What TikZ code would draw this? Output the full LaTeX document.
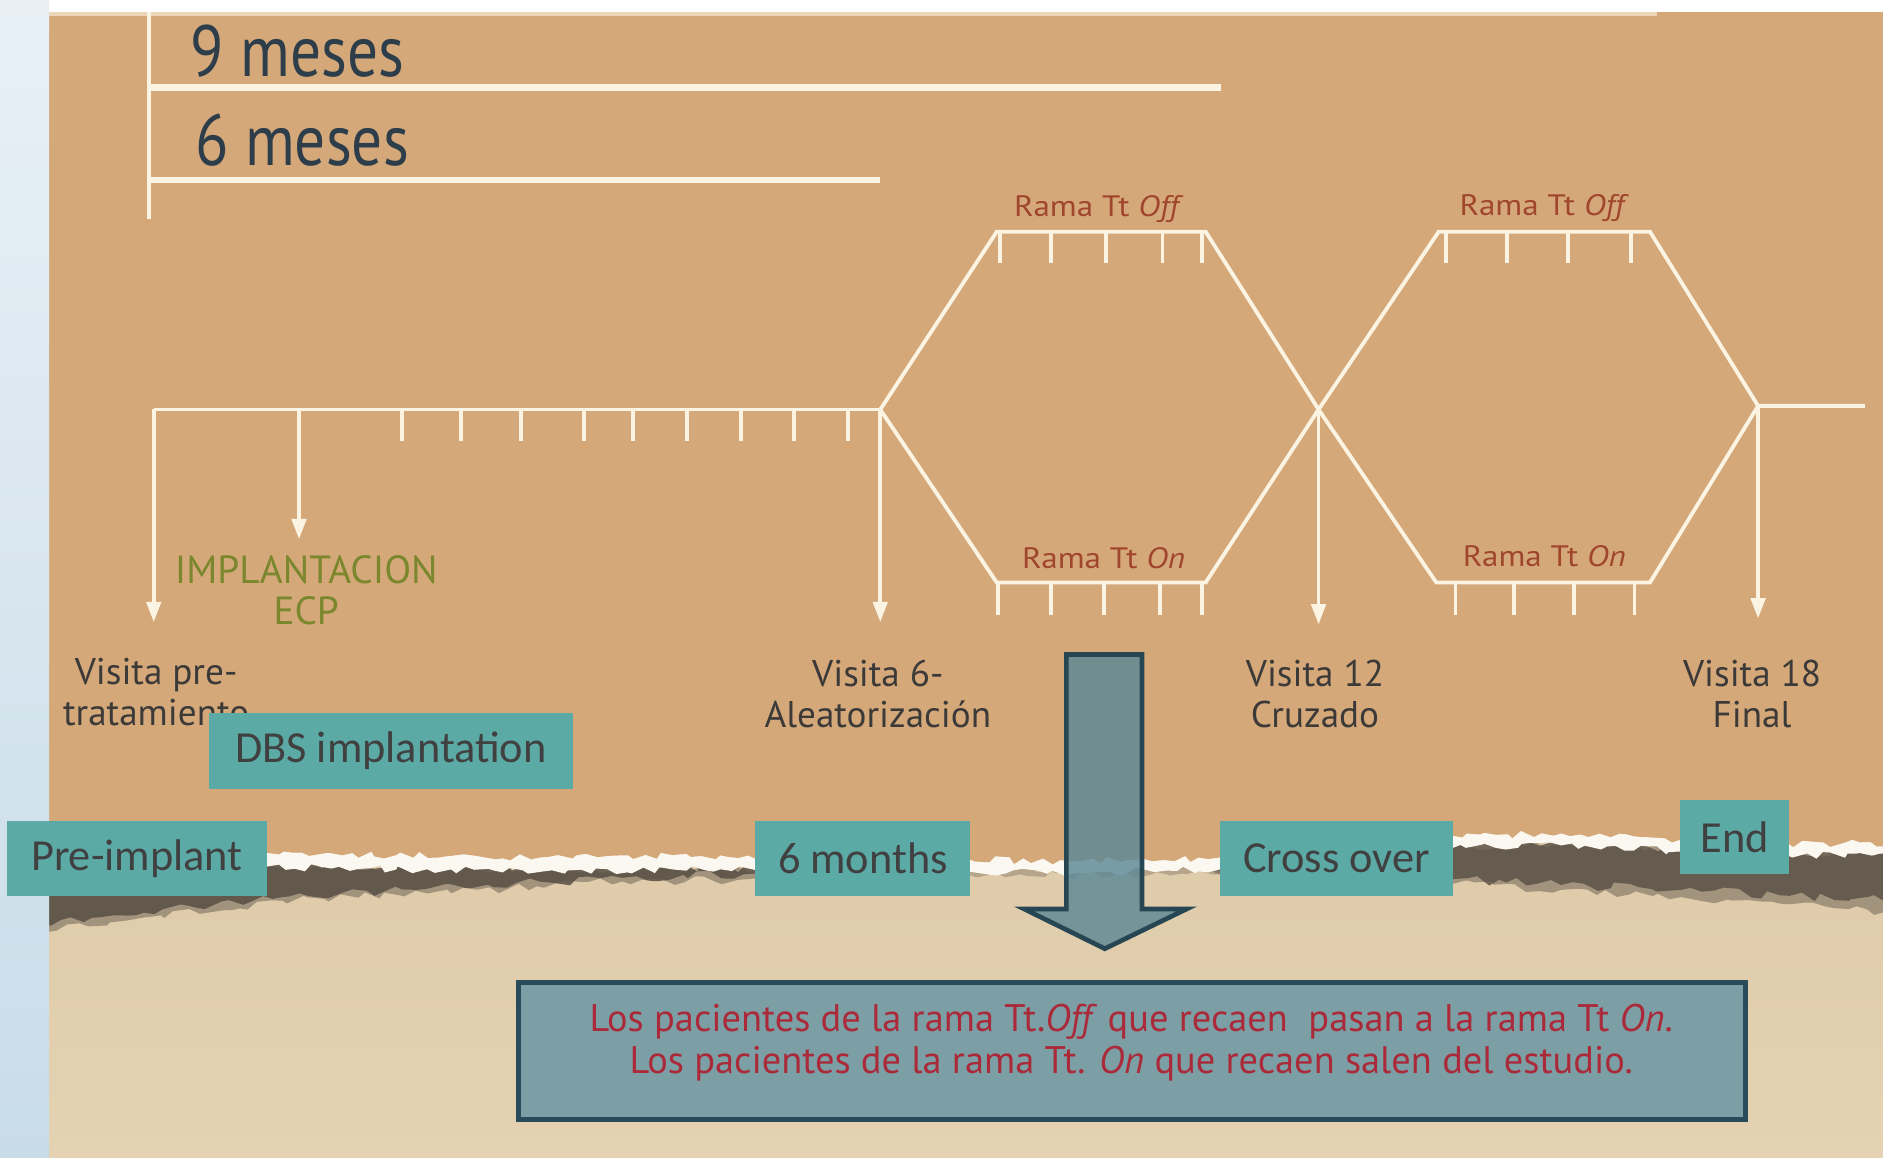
\documentclass[tikz,border=0pt]{standalone}
\usepackage{fontspec}
\setmainfont{PT Sans}
\newfontfamily\cali{Carlito}
\usetikzlibrary{arrows.meta,decorations.pathmorphing}

\definecolor{kraft}{RGB}{213,168,122}
\definecolor{beigeA}{RGB}{221,200,165}
\definecolor{beigeB}{RGB}{228,210,178}
\definecolor{shadowc}{RGB}{88,78,68}
\definecolor{tearw}{RGB}{250,248,240}
\definecolor{linec}{RGB}{252,244,226}
\definecolor{mesesc}{RGB}{45,62,74}
\definecolor{visitc}{RGB}{60,58,56}
\definecolor{ramac}{RGB}{160,70,45}
\definecolor{implc}{RGB}{122,135,45}
\definecolor{tealc}{RGB}{92,170,166}
\definecolor{tealtxt}{RGB}{64,64,64}
\definecolor{arrowf}{RGB}{92,136,150}
\definecolor{arrowd}{RGB}{38,70,84}
\definecolor{boxf}{RGB}{124,159,165}
\definecolor{boxd}{RGB}{40,76,92}
\definecolor{boxtxt}{RGB}{170,42,58}
\definecolor{bluetop}{RGB}{232,240,246}
\definecolor{bluebot}{RGB}{200,220,232}

\tikzset{
  wline/.style={draw=linec, line width=0.9pt},
  wthick/.style={draw=linec, line width=1.5pt},
  warrow/.style={wline, -{Triangle[width=3.4pt,length=4.8pt]}},
  mesestxt/.style={inner sep=0pt, text=mesesc, font=\fontsize{16.5}{18}\selectfont},
  ramatxt/.style={inner sep=0pt, text=ramac, font=\fontsize{7}{8}\selectfont},
  visittxt/.style={inner sep=0pt, text=visitc, align=center, font=\fontsize{8.8}{9.7}\selectfont},
  impltxt/.style={inner sep=0pt, text=implc, align=center, font=\fontsize{9.3}{9.7}\selectfont},
  tealbox/.style={fill=tealc, text=tealtxt, inner sep=0pt, font=\cali\fontsize{10.5}{12}\selectfont},
  tearedge/.style={decorate, decoration={random steps, segment length=2.2pt, amplitude=0.9pt}},
  shadedge/.style={decorate, decoration={random steps, segment length=2.5pt, amplitude=1.1pt}},
}

\begin{document}
\begin{tikzpicture}[x=0.01cm,y=-0.01cm]
\useasboundingbox (0,0) rectangle (1568,964);
\begin{scope}
\clip (0,0) rectangle (1568,964);
\pgfmathsetseed{4711}
% lower paper
\shade[top color=beigeA, bottom color=beigeB] (41,600) rectangle (1568,964);
% shadows under the tear
\fill[shadowc, opacity=0.45, shadedge] (30,722) -- (120,721) -- (222,720) -- (330,722) -- (450,724) -- (560,722) -- (650,724)
   -- (640,733) -- (518,734) -- (356,744) -- (235,750) -- (120,764) -- (30,774) -- cycle;
\fill[shadowc, opacity=0.85, shadedge] (30,722) -- (120,721) -- (222,720) -- (330,722) -- (450,724) -- (560,722) -- (640,724)
   -- (619,728) -- (518,731) -- (356,740) -- (235,747) -- (120,760) -- (30,769) -- cycle;
\fill[shadowc, opacity=0.3, shadedge] (640,722) -- (808,724) -- (1016,722) -- (1016,728) -- (808,729) -- (640,729) -- cycle;
\fill[shadowc, opacity=0.45, shadedge] (1010,720) -- (1100,712) -- (1210,705) -- (1300,702) -- (1400,707) -- (1490,711) -- (1580,710)
   -- (1580,761) -- (1490,753) -- (1400,747) -- (1300,741) -- (1210,736) -- (1100,729) -- (1010,726) -- cycle;
\fill[shadowc, opacity=0.8, shadedge] (1010,720) -- (1100,712) -- (1210,705) -- (1300,702) -- (1400,707) -- (1490,711) -- (1580,710)
   -- (1580,750) -- (1490,746) -- (1400,741) -- (1300,737) -- (1210,732) -- (1100,726) -- (1010,724) -- cycle;
% white tear strip
\fill[tearw, tearedge] (30,700) -- (1580,690) -- (1580,712) -- (1490,713) -- (1400,709) -- (1300,704) -- (1210,706)
   -- (1100,714) -- (1016,724) -- (900,727) -- (808,726) -- (720,725) -- (640,723) -- (560,724) -- (450,726)
   -- (330,724) -- (220,722) -- (120,724) -- (30,726) -- cycle;
% upper kraft paper
\fill[kraft, tearedge] (30,0) -- (1580,0) -- (1580,702) -- (1490,703) -- (1400,699) -- (1300,694) -- (1210,696)
   -- (1100,704) -- (1016,714) -- (900,717) -- (808,716) -- (720,715) -- (640,713) -- (560,712) -- (450,714)
   -- (330,712) -- (220,710) -- (120,713) -- (30,715) -- cycle;
% top white band and left blue strip
\fill[white] (0,0) rectangle (1568,10);
\fill[linec, opacity=0.6] (41,10) rectangle (1380,13);
\shade[top color=bluetop, bottom color=bluebot] (0,0) rectangle (41,964);
\end{scope}

% period scale
\coordinate (sc0) at (124,10);
\coordinate (sc1) at (124,182);
\draw[wline] (sc0) -- (sc1);
\coordinate (n9a) at (124,73);
\coordinate (n9b) at (1017,73);
\coordinate (n6a) at (124,150);
\coordinate (n6b) at (733,150);
\draw[wthick] (n9a) -- (n9b);
\draw[wthick] (n6a) -- (n6b);
\node[mesestxt, anchor=base west] (m9) at (158,64) {\scalebox{0.88}[1.04]{9 meses}};
\node[mesestxt, anchor=base west] (m6) at (162,138) {\scalebox{0.88}[1.04]{6 meses}};

% timeline
\coordinate (t0) at (128,341);
\coordinate (ti) at (249,341);
\coordinate (v1) at (733,341);
\coordinate (o1a) at (830,193);
\coordinate (o1b) at (1004,193);
\coordinate (u1a) at (830,485);
\coordinate (u1b) at (1004,485);
\coordinate (x1) at (1098,341);
\coordinate (o2a) at (1198,193);
\coordinate (o2b) at (1374,193);
\coordinate (u2a) at (1196,485);
\coordinate (u2b) at (1374,485);
\coordinate (v3) at (1464,338);
\coordinate (tend) at (1553,338);
\draw[wline] (t0) -- (v1);
\foreach \x in {335,384,434,486,527,572,617,661,706}
  \draw[wline] (\x,341) -- ++(0,26);
\draw[wline, line join=miter] (v1) -- (o1a) -- (o1b) -- (x1) -- (o2a) -- (o2b) -- (v3) -- (tend);
\draw[wline, line join=miter] (v1) -- (u1a) -- (u1b) -- (x1) -- (u2a) -- (u2b) -- (v3);
\foreach \x in {833,875,921,968,1001,1204,1255,1306,1358}
  \draw[wline] (\x,193) -- ++(0,26);
\foreach \x in {831,875,919,966,1001,1212,1261,1311,1361}
  \draw[wline] (\x,485) -- ++(0,27);

% visit arrows
\coordinate (a0) at (128,518);
\coordinate (ai) at (249,449);
\coordinate (a1) at (733,518);
\coordinate (a2) at (1098,520);
\coordinate (a3) at (1464,515);
\draw[warrow] (t0) -- (a0);
\draw[warrow] (ti) -- (ai);
\draw[warrow] (v1) -- (a1);
\draw[warrow] (x1) -- (a2);
\draw[warrow] (v3) -- (a3);

% arm labels
\node[ramatxt] (off1) at (915,174) {\scalebox{1.12}[1]{Rama Tt \textit{Off}}};
\node[ramatxt] (off2) at (1286,173) {\scalebox{1.12}[1]{Rama Tt \textit{Off}}};
\node[ramatxt] (on1) at (919,465) {\scalebox{1.12}[1]{Rama Tt \textit{On}}};
\node[ramatxt] (on2) at (1286,463) {\scalebox{1.12}[1]{Rama Tt \textit{On}}};

% visit labels
\node[impltxt, anchor=north] (impl) at (255,462) {IMPLANTACION\\ECP};
\node[visittxt, anchor=north] (vis0) at (130,547) {Visita pre-\\tratamiento};
\node[visittxt, anchor=north] (vis1) at (731,549) {Visita 6-\\Aleatorización};
\node[visittxt, anchor=north] (vis2) at (1095,549) {Visita 12\\Cruzado};
\node[visittxt, anchor=north] (vis3) at (1459,549) {Visita 18\\Final};

% big arrow
\fill[arrowf, fill opacity=0.82, draw=arrowd, line width=1.1pt, line join=miter]
  (888,545) -- (951,545) -- (951,757) -- (988,757) -- (920,790) -- (853,757) -- (888,757) -- cycle;

% conclusion box
\node[fill=boxf, draw=boxd, line width=1.1pt, minimum width=10.21cm, minimum height=1.14cm, inner sep=0pt] (concl) at (942.5,875) {};
\node[inner sep=0pt, text=boxtxt, align=center, font=\fontsize{9.1}{10}\selectfont] (concltxt) at (942,868)
  {Los pacientes de la rama Tt.\textit{Off} que recaen\ \ pasan a la rama Tt \textit{On}.\\
   Los pacientes de la rama Tt. \textit{On} que recaen salen del estudio.};

% teal overlay labels
\node[tealbox, minimum width=3.03cm, minimum height=0.63cm] (dbs) at (325.5,625.5) {DBS implantation};
\node[tealbox, minimum width=2.16cm, minimum height=0.62cm] (pre) at (114,715) {Pre-implant};
\node[tealbox, minimum width=1.79cm, minimum height=0.62cm] (six) at (718.5,715) {6 months};
\node[tealbox, minimum width=1.94cm, minimum height=0.62cm] (cross) at (1113,715) {Cross over};
\node[tealbox, minimum width=0.91cm, minimum height=0.62cm] (endb) at (1444.5,697) {End};
\end{tikzpicture}
\end{document}
